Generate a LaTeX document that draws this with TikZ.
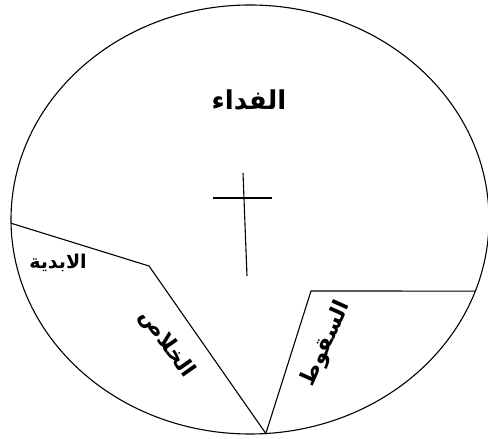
\documentclass[tikz,border=0pt]{standalone}
\usepackage{fontspec}
\newfontfamily\arabicfont[Script=Arabic]{DejaVu Sans}
\TeXXeTstate=1
\usetikzlibrary{calc}

\begin{document}
\begin{tikzpicture}[
    x=1pt, y=1pt,
    outline/.style={draw=black, line width=1.1pt},
    heading/.style={font=\arabicfont\bfseries\fontsize{26}{30}\selectfont, inner sep=0pt},
    region/.style={font=\arabicfont\bfseries\fontsize{19}{22}\selectfont, inner sep=0pt},
    slanted/.style={font=\arabicfont\bfseries\fontsize{22}{26}\selectfont, inner sep=0pt}
]
    \useasboundingbox (0,0) rectangle (488,439);

    % outer ellipse and the points on it
    \coordinate (c) at (250,219.5);
    \draw [outline] (c) ellipse [x radius=239, y radius=214.5];
    \coordinate (lefton) at ($(c)+(181:239 and 214.5)$);
    \coordinate (bottom) at ($(c)+(273.8:239 and 214.5)$);
    \coordinate (righton) at ($(c)+(340.5:239 and 214.5)$);
    \coordinate (leftbend) at (149,173);
    \coordinate (rightbend) at (311,148);

    \draw [outline] (lefton) -- (leftbend) -- (bottom) -- (rightbend) -- (righton);

    % cross
    \coordinate (crosstop) at (243,266);
    \coordinate (crossfoot) at (247,163);
    \coordinate (armleft) at (213,241);
    \coordinate (armright) at (272,241);
    \draw [outline] (crosstop) -- (crossfoot);
    \draw [outline] (armleft) -- (armright);

    % labels
    \node [heading] (fida) at (249,339) {\beginR الفداء\endR};
    \node [region] (abadiya) at (58,176) {\beginR الابدية\endR};
    \node [slanted, rotate=-55] (khalas) at (167,95) {\beginR الخلاص\endR};
    \node [slanted, rotate=66] (suqut) at (326,95) {\beginR السقوط\endR};
\end{tikzpicture}
\end{document}
